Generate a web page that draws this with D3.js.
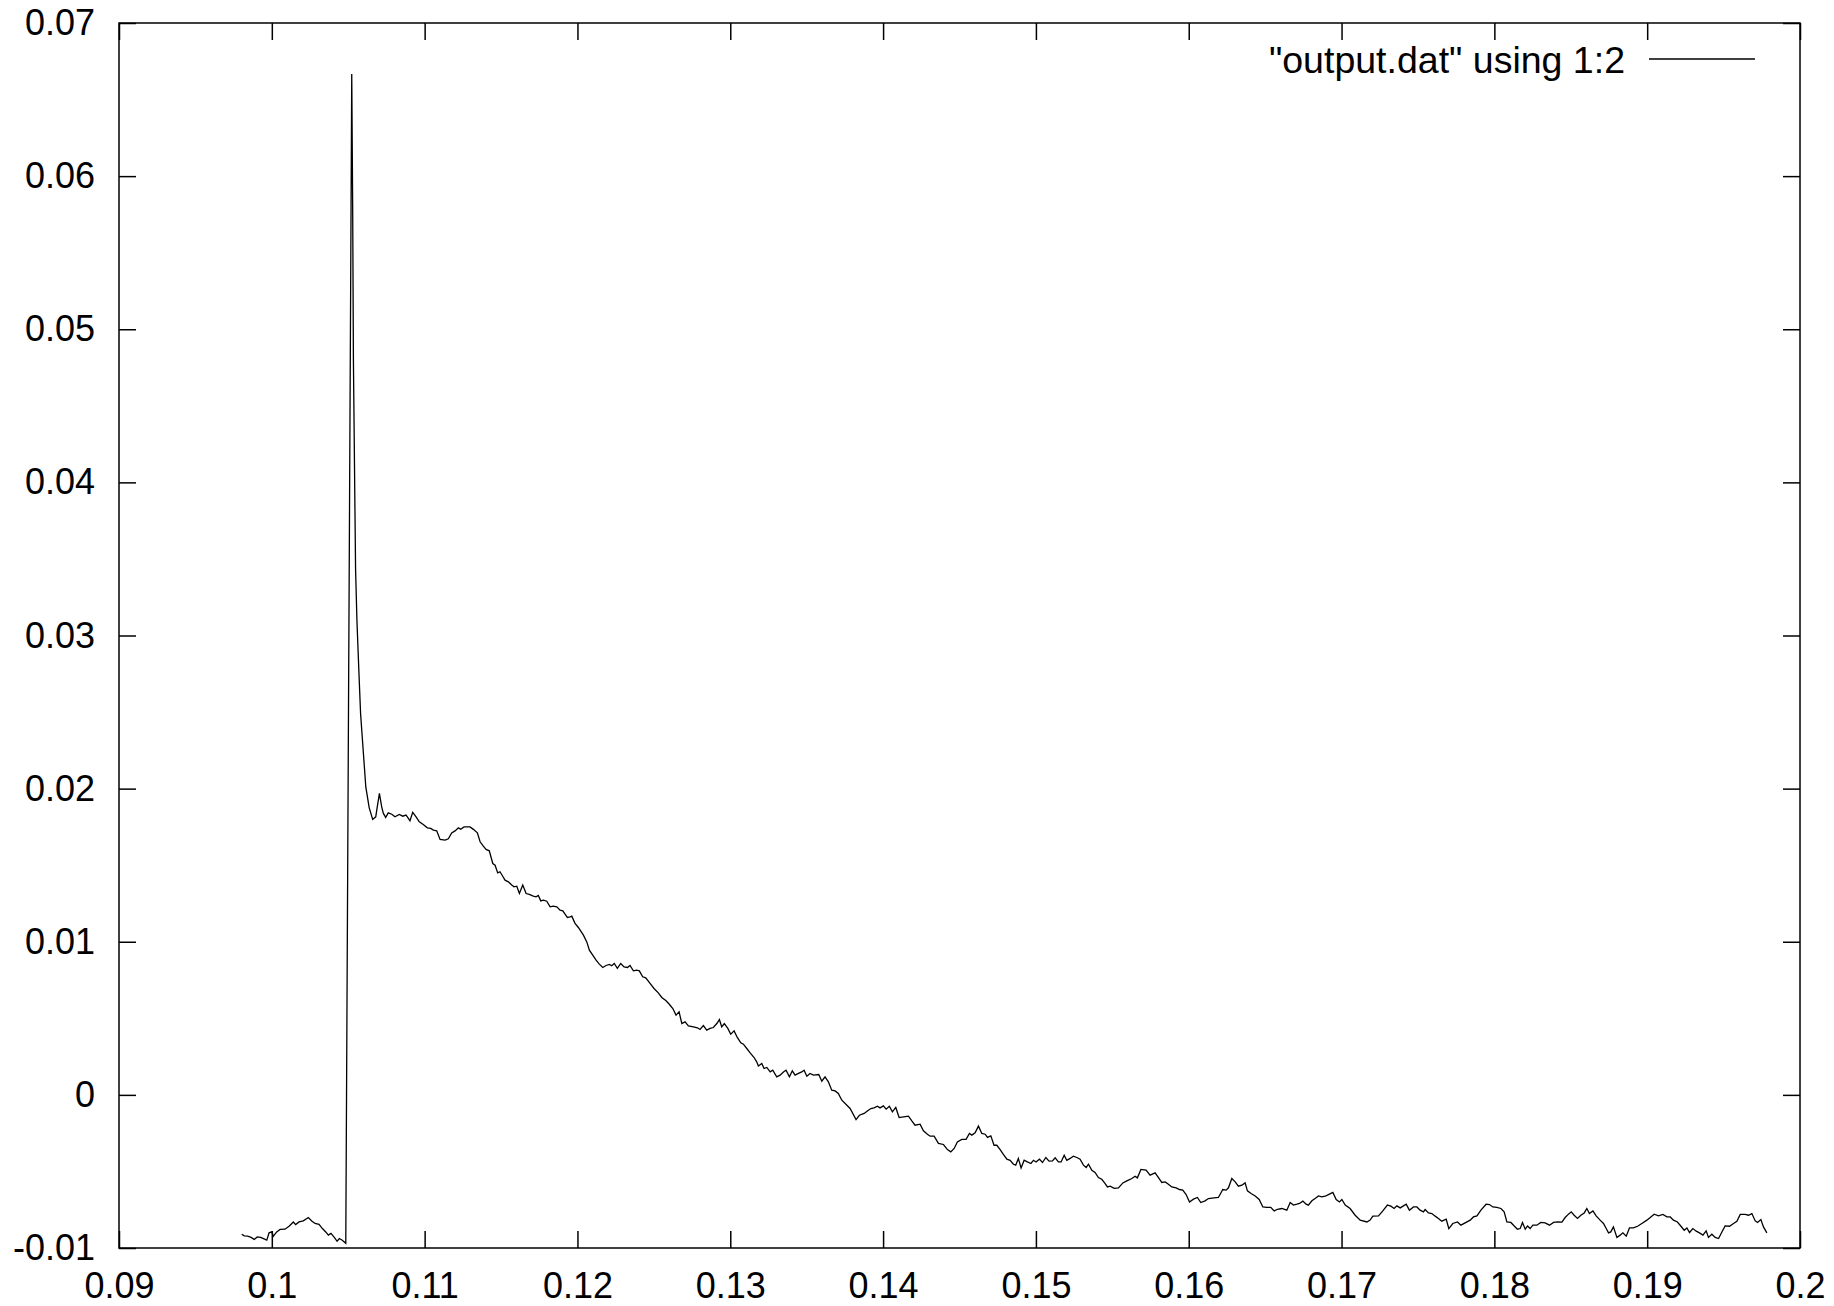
<!DOCTYPE html>
<html lang="en">
<head>
<meta charset="UTF-8">
<title>output.dat</title>
<script src="https://d3js.org/d3.v7.min.js"></script>
<style>
  body { margin: 0; background: #fff; }
</style>
</head>
<body>
<script>
const width  = 1834;
const height = 1306;
const frame  = {left: 119, right: 1800, top: 23, bottom: 1248};
const font   = '"Liberation Sans", Arial, Helvetica, sans-serif';

const xTicks      = [0.09, 0.1, 0.11, 0.12, 0.13, 0.14, 0.15, 0.16, 0.17, 0.18, 0.19, 0.2];
const xTickLabels = ["0.09", "0.1", "0.11", "0.12", "0.13", "0.14", "0.15", "0.16", "0.17", "0.18", "0.19", "0.2"];
const yTicks      = [-0.01, 0, 0.01, 0.02, 0.03, 0.04, 0.05, 0.06, 0.07];
const yTickLabels = ["-0.01", "0", "0.01", "0.02", "0.03", "0.04", "0.05", "0.06", "0.07"];

const legendLabel = '"output.dat" using 1:2';

// column 1 vs column 2
const signal = [
    // before the jump
    [0.09803,-0.00910],[0.09820,-0.00921],[0.09842,-0.00923],[0.09864,-0.00931],[0.09885,-0.00944],[0.09905,-0.00928],
    [0.09927,-0.00931],[0.09949,-0.00941],[0.09967,-0.00949],[0.09982,-0.00901],[0.09999,-0.00895],[0.10010,-0.00923],
    [0.10032,-0.00895],[0.10054,-0.00879],[0.10086,-0.00877],[0.10113,-0.00858],[0.10141,-0.00830],[0.10156,-0.00847],
    [0.10178,-0.00830],[0.10206,-0.00823],[0.10239,-0.00801],[0.10261,-0.00823],[0.10283,-0.00840],[0.10309,-0.00845],
    [0.10331,-0.00873],[0.10353,-0.00895],[0.10370,-0.00916],[0.10387,-0.00905],[0.10409,-0.00931],[0.10427,-0.00956],
    [0.10442,-0.00938],[0.10461,-0.00949],[0.10484,-0.00969],
    // spike and decay
    [0.10523,0.06667],[0.10529,0.05812],[0.10534,0.04794],[0.10541,0.04115],[0.10548,0.03436],[0.10557,0.03097],
    [0.10570,0.02758],[0.10581,0.02487],[0.10598,0.02249],[0.10615,0.02011],[0.10637,0.01876],[0.10660,0.01799],
    [0.10680,0.01816],[0.10690,0.01881],[0.10704,0.01969],[0.10719,0.01881],[0.10730,0.01838],[0.10745,0.01812],
    [0.10762,0.01842],[0.10785,0.01833],[0.10806,0.01816],[0.10834,0.01831],[0.10857,0.01820],[0.10878,0.01827],
    [0.10887,0.01816],[0.10904,0.01790],[0.10922,0.01845],[0.10944,0.01816],[0.10965,0.01783],[0.10991,0.01766],
    [0.11018,0.01744],[0.11040,0.01740],[0.11057,0.01729],[0.11079,0.01724],[0.11101,0.01668],[0.11134,0.01664],
    [0.11155,0.01672],[0.11177,0.01711],[0.11199,0.01724],[0.11221,0.01744],[0.11236,0.01735],[0.11258,0.01750],
    [0.11297,0.01750],[0.11319,0.01734],[0.11345,0.01711],[0.11363,0.01653],[0.11384,0.01624],[0.11402,0.01603],
    [0.11423,0.01594],[0.11446,0.01511],[0.11461,0.01500],[0.11478,0.01450],[0.11493,0.01457],[0.11511,0.01428],
    [0.11526,0.01402],[0.11548,0.01391],[0.11570,0.01370],[0.11585,0.01359],[0.11603,0.01363],[0.11620,0.01315],
    [0.11642,0.01370],[0.11664,0.01315],[0.11685,0.01309],[0.11711,0.01298],[0.11729,0.01293],[0.11744,0.01302],
    [0.11760,0.01267],[0.11777,0.01272],[0.11799,0.01265],[0.11821,0.01228],[0.11842,0.01233],[0.11865,0.01228],
    [0.11886,0.01206],[0.11904,0.01202],[0.11919,0.01180],[0.11934,0.01159],[0.11952,0.01163],[0.11963,0.01167],
    [0.11984,0.01120],[0.12006,0.01093],
    [0.12039,0.01043],[0.12061,0.00999],[0.12078,0.00945],[0.12100,0.00912],[0.12122,0.00880],[0.12143,0.00854],
    [0.12166,0.00832],[0.12187,0.00845],[0.12209,0.00852],[0.12224,0.00843],[0.12241,0.00858],[0.12261,0.00826],
    [0.12283,0.00858],[0.12305,0.00836],[0.12327,0.00832],[0.12344,0.00845],[0.12366,0.00810],[0.12388,0.00815],
    [0.12405,0.00810],[0.12427,0.00771],[0.12447,0.00764],[0.12475,0.00728],[0.12501,0.00695],[0.12529,0.00666],
    [0.12552,0.00636],[0.12580,0.00614],[0.12601,0.00592],[0.12624,0.00564],[0.12645,0.00521],[0.12665,0.00542],
    [0.12683,0.00466],[0.12704,0.00477],[0.12726,0.00451],[0.12759,0.00444],[0.12785,0.00438],[0.12802,0.00427],
    [0.12824,0.00453],[0.12846,0.00423],[0.12868,0.00434],[0.12889,0.00440],[0.12912,0.00466],[0.12929,0.00492],
    [0.12944,0.00444],[0.12961,0.00466],[0.12984,0.00434],[0.13003,0.00396],[0.13025,0.00418],[0.13046,0.00375],
    [0.13069,0.00340],[0.13086,0.00331],[0.13108,0.00303],[0.13130,0.00274],[0.13156,0.00244],[0.13173,0.00216],
    [0.13184,0.00189],[0.13206,0.00205],[0.13221,0.00172],[0.13239,0.00179],[0.13261,0.00150],[0.13278,0.00161],
    [0.13304,0.00118],[0.13326,0.00129],[0.13348,0.00150],[0.13365,0.00161],[0.13387,0.00118],[0.13406,0.00157],
    [0.13424,0.00129],[0.13446,0.00140],[0.13468,0.00150],[0.13483,0.00161],[0.13501,0.00122],[0.13522,0.00140],
    [0.13544,0.00129],[0.13579,0.00133],[0.13599,0.00089],[0.13620,0.00118],[0.13642,0.00085],[0.13664,0.00031],
    [0.13686,0.00026],[0.13707,0.00009],[0.13730,-0.00035],
    [0.13784,-0.00089],[0.13823,-0.00161],[0.13845,-0.00133],[0.13876,-0.00121],[0.13897,-0.00105],[0.13920,-0.00089],
    [0.13941,-0.00085],[0.13963,-0.00074],[0.13980,-0.00085],[0.14002,-0.00072],[0.14020,-0.00093],[0.14041,-0.00074],
    [0.14061,-0.00111],[0.14083,-0.00082],[0.14105,-0.00148],[0.14133,-0.00144],[0.14166,-0.00139],[0.14188,-0.00170],
    [0.14209,-0.00198],[0.14242,-0.00191],[0.14264,-0.00235],[0.14290,-0.00257],[0.14308,-0.00270],[0.14334,-0.00270],
    [0.14362,-0.00317],[0.14395,-0.00324],[0.14421,-0.00357],[0.14443,-0.00372],[0.14465,-0.00350],[0.14486,-0.00307],
    [0.14515,-0.00291],[0.14543,-0.00291],[0.14565,-0.00252],[0.14581,-0.00263],[0.14602,-0.00248],[0.14624,-0.00204],
    [0.14646,-0.00252],[0.14668,-0.00257],[0.14683,-0.00278],[0.14705,-0.00268],[0.14726,-0.00329],[0.14744,-0.00329],
    [0.14766,-0.00357],[0.14787,-0.00389],[0.14810,-0.00420],[0.14831,-0.00427],[0.14853,-0.00453],[0.14868,-0.00459],
    [0.14885,-0.00415],[0.14903,-0.00477],[0.14923,-0.00427],[0.14944,-0.00438],[0.14967,-0.00448],[0.14984,-0.00427],
    [0.15001,-0.00438],[0.15023,-0.00420],[0.15043,-0.00442],[0.15065,-0.00409],[0.15086,-0.00433],[0.15108,-0.00431],
    [0.15126,-0.00411],[0.15147,-0.00438],[0.15165,-0.00438],[0.15185,-0.00394],[0.15202,-0.00427],[0.15224,-0.00415],
    [0.15245,-0.00400],[0.15268,-0.00409],[0.15289,-0.00420],[0.15311,-0.00459],[0.15329,-0.00474],[0.15344,-0.00453],
    [0.15366,-0.00492],[0.15387,-0.00507],[0.15409,-0.00540],[0.15431,-0.00551],[0.15453,-0.00579],[0.15468,-0.00601],
    [0.15486,-0.00596],[0.15512,-0.00611],[0.15540,-0.00607],[0.15569,-0.00575],[0.15595,-0.00562],[0.15628,-0.00546],
    [0.15649,-0.00531],[0.15664,-0.00542],[0.15687,-0.00487],[0.15721,-0.00492],[0.15747,-0.00524],
    [0.15780,-0.00509],[0.15802,-0.00540],[0.15824,-0.00572],[0.15846,-0.00568],[0.15867,-0.00583],[0.15889,-0.00601],
    [0.15918,-0.00607],[0.15939,-0.00618],[0.15961,-0.00622],[0.15983,-0.00651],[0.16005,-0.00699],[0.16031,-0.00681],
    [0.16057,-0.00670],[0.16079,-0.00703],[0.16107,-0.00692],[0.16129,-0.00677],[0.16166,-0.00673],[0.16194,-0.00670],
    [0.16223,-0.00618],[0.16245,-0.00622],[0.16260,-0.00607],[0.16282,-0.00546],[0.16304,-0.00568],[0.16325,-0.00596],
    [0.16348,-0.00590],[0.16369,-0.00575],[0.16384,-0.00627],[0.16408,-0.00644],[0.16435,-0.00660],[0.16461,-0.00683],
    [0.16485,-0.00732],[0.16511,-0.00735],[0.16537,-0.00735],[0.16559,-0.00758],[0.16581,-0.00747],[0.16609,-0.00742],
    [0.16642,-0.00753],[0.16664,-0.00703],[0.16685,-0.00720],[0.16708,-0.00714],[0.16725,-0.00709],[0.16747,-0.00694],
    [0.16768,-0.00714],[0.16783,-0.00720],[0.16806,-0.00692],[0.16827,-0.00677],[0.16849,-0.00660],[0.16871,-0.00666],
    [0.16893,-0.00662],[0.16914,-0.00651],[0.16943,-0.00637],[0.16965,-0.00683],[0.16986,-0.00699],[0.17002,-0.00683],
    [0.17024,-0.00720],[0.17056,-0.00742],[0.17089,-0.00786],[0.17122,-0.00818],[0.17166,-0.00830],[0.17187,-0.00818],
    [0.17205,-0.00792],[0.17242,-0.00790],[0.17270,-0.00758],[0.17300,-0.00720],[0.17323,-0.00727],[0.17344,-0.00742],
    [0.17362,-0.00725],[0.17384,-0.00738],[0.17405,-0.00725],[0.17423,-0.00714],[0.17444,-0.00753],[0.17471,-0.00732],
    [0.17493,-0.00732],[0.17514,-0.00753],[0.17536,-0.00764],[0.17547,-0.00749],[0.17569,-0.00771],[0.17591,-0.00775],
    [0.17613,-0.00792],[0.17634,-0.00807],
    [0.17656,-0.00825],[0.17685,-0.00812],[0.17702,-0.00873],[0.17728,-0.00840],[0.17759,-0.00830],[0.17781,-0.00851],
    [0.17809,-0.00836],[0.17842,-0.00818],[0.17863,-0.00797],[0.17886,-0.00790],[0.17912,-0.00753],[0.17946,-0.00714],
    [0.17968,-0.00716],[0.17990,-0.00732],[0.18016,-0.00735],[0.18043,-0.00742],[0.18064,-0.00764],[0.18082,-0.00830],
    [0.18108,-0.00833],[0.18130,-0.00856],[0.18151,-0.00877],[0.18169,-0.00873],[0.18184,-0.00833],[0.18202,-0.00877],
    [0.18217,-0.00856],[0.18234,-0.00873],[0.18252,-0.00851],[0.18278,-0.00851],[0.18304,-0.00833],[0.18332,-0.00836],
    [0.18361,-0.00851],[0.18387,-0.00833],[0.18413,-0.00830],[0.18442,-0.00831],[0.18463,-0.00801],[0.18485,-0.00779],
    [0.18503,-0.00764],[0.18522,-0.00786],[0.18544,-0.00807],[0.18566,-0.00786],[0.18588,-0.00771],[0.18605,-0.00742],
    [0.18622,-0.00775],[0.18645,-0.00758],[0.18666,-0.00790],[0.18692,-0.00818],[0.18714,-0.00840],[0.18732,-0.00873],
    [0.18747,-0.00901],[0.18762,-0.00895],[0.18779,-0.00862],[0.18802,-0.00931],[0.18823,-0.00916],[0.18841,-0.00901],
    [0.18863,-0.00923],[0.18884,-0.00869],[0.18910,-0.00869],[0.18937,-0.00858],[0.18965,-0.00840],[0.18998,-0.00818],
    [0.19024,-0.00797],[0.19046,-0.00779],[0.19074,-0.00790],[0.19103,-0.00781],[0.19129,-0.00797],[0.19151,-0.00797],
    [0.19172,-0.00818],[0.19198,-0.00830],[0.19221,-0.00858],[0.19242,-0.00884],[0.19260,-0.00869],[0.19277,-0.00899],
    [0.19299,-0.00873],[0.19321,-0.00890],[0.19342,-0.00901],[0.19365,-0.00916],[0.19386,-0.00888],[0.19401,-0.00931],
    [0.19423,-0.00910],[0.19445,-0.00931],[0.19467,-0.00938],[0.19489,-0.00895],[0.19510,-0.00856],[0.19539,-0.00858],
    [0.19565,-0.00840],[0.19587,-0.00825],[0.19609,-0.00781],[0.19641,-0.00781],[0.19663,-0.00786],[0.19685,-0.00775],
    [0.19707,-0.00823],[0.19722,-0.00833],[0.19744,-0.00814],[0.19761,-0.00862],[0.19783,-0.00901]
];

const scaleX = d3.scaleLinear()
                 .domain([xTicks[0], xTicks[xTicks.length - 1]])
                 .range([frame.left, frame.right]);

const scaleY = d3.scaleLinear()
                 .domain([yTicks[0], yTicks[yTicks.length - 1]])
                 .range([frame.bottom, frame.top]);

const svg = d3.select("body").append("svg")
              .attr("width", width)
              .attr("height", height)
              .style("display", "block");

const tickLen = 17;

// gnuplot style: ticks point inward on all four sides, labels only bottom/left
function styleAxis(g) {
    g.select(".domain").remove();
    g.attr("font-family", font).attr("font-size", 36);
    g.selectAll(".tick line").attr("stroke", "#000").attr("stroke-width", 1.5);
    g.selectAll(".tick text").attr("fill", "#000");
}

svg.append("g")
   .attr("transform", "translate(" + [0, frame.bottom] + ")")
   .call(d3.axisBottom(scaleX).tickValues(xTicks)
           .tickFormat((d, i) => xTickLabels[i])
           .tickSizeInner(-tickLen).tickSizeOuter(0).tickPadding(24))
   .call(styleAxis);

svg.append("g")
   .attr("transform", "translate(" + [0, frame.top] + ")")
   .call(d3.axisTop(scaleX).tickValues(xTicks).tickFormat("")
           .tickSizeInner(-tickLen).tickSizeOuter(0))
   .call(styleAxis);

svg.append("g")
   .attr("transform", "translate(" + [frame.left, 0] + ")")
   .call(d3.axisLeft(scaleY).tickValues(yTicks)
           .tickFormat((d, i) => yTickLabels[i])
           .tickSizeInner(-tickLen).tickSizeOuter(0).tickPadding(24))
   .call(styleAxis);

svg.append("g")
   .attr("transform", "translate(" + [frame.right, 0] + ")")
   .call(d3.axisRight(scaleY).tickValues(yTicks).tickFormat("")
           .tickSizeInner(-tickLen).tickSizeOuter(0))
   .call(styleAxis);

svg.append("rect")
   .attr("x", frame.left)
   .attr("y", frame.top)
   .attr("width", frame.right - frame.left)
   .attr("height", frame.bottom - frame.top)
   .attr("fill", "none")
   .attr("stroke", "#000")
   .attr("stroke-width", 1.5);

const line = d3.line()
               .x(d => scaleX(d[0]))
               .y(d => scaleY(d[1]));

svg.append("path")
   .attr("d", line(signal))
   .attr("fill", "none")
   .attr("stroke", "#000")
   .attr("stroke-width", 1.3);

// key, top right inside the frame
const key = svg.append("g").attr("transform", "translate(" + [1625, 59] + ")");
key.append("text")
   .attr("text-anchor", "end")
   .attr("dy", "0.36em")
   .attr("font-family", font)
   .attr("font-size", 37.5)
   .text(legendLabel);
key.append("line")
   .attr("x1", 24).attr("x2", 130)
   .attr("stroke", "#000")
   .attr("stroke-width", 1.3);
</script>
</body>
</html>
